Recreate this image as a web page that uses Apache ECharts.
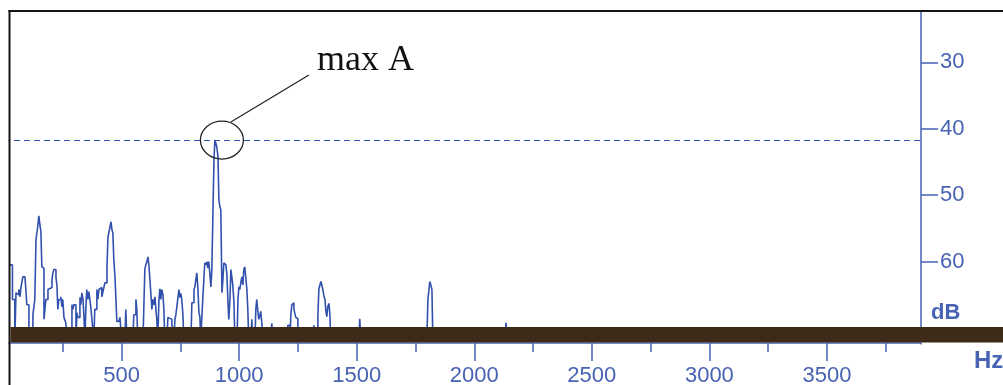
<!DOCTYPE html>
<html>
<head>
<meta charset="utf-8">
<script src="https://cdn.jsdelivr.net/npm/echarts@6/dist/echarts.min.js"></script>
<style>
	html, body {margin: 0; padding: 0; background: #fff;}
	#chart_spectrum {width: 1003px; height: 385px;}
</style>
</head>
<body>
<div id="chart_spectrum"></div>
<script>
// spectrum: frequency (Hz) and level (dB, shown downward)
var freqs = [25, 31, 36, 42, 46, 51, 59, 63, 68, 72, 80, 89, 93, 97, 106, 114, 123, 131, 136, 144,
	148, 153, 157, 161, 165, 170, 174, 178, 187, 195, 204, 208, 212, 221, 225, 229, 233, 242, 246, 250,
	255, 263, 267, 280, 289, 293, 297, 306, 310, 314, 323, 327, 331, 336, 340, 344, 348, 352, 357, 361,
	369, 374, 382, 386, 395, 399, 404, 408, 416, 421, 429, 438, 442, 450, 455, 459, 463, 467, 472, 476,
	480, 489, 493, 501, 514, 518, 523, 548, 552, 561, 565, 569, 591, 595, 599, 603, 608, 612, 616, 620,
	625, 629, 633, 637, 642, 646, 650, 654, 659, 663, 667, 671, 676, 680, 684, 693, 697, 705, 714, 722,
	727, 731, 739, 744, 748, 752, 756, 761, 765, 795, 799, 808, 812, 816, 820, 825, 829, 833, 837, 841,
	846, 850, 854, 859, 863, 867, 871, 876, 880, 884, 888, 893, 897, 901, 905, 910, 914, 918, 922, 927,
	931, 935, 939, 944, 948, 952, 956, 961, 965, 969, 973, 978, 982, 991, 995, 999, 1003, 1008, 1012, 1016,
	1020, 1024, 1029, 1033, 1037, 1041, 1050, 1054, 1058, 1067, 1071, 1075, 1080, 1084, 1088, 1092, 1097, 1101, 1135, 1139,
	1143, 1203, 1207, 1216, 1220, 1224, 1228, 1233, 1237, 1241, 1245, 1250, 1313, 1318, 1322, 1330, 1335, 1339, 1343, 1348,
	1352, 1356, 1360, 1365, 1369, 1373, 1377, 1382, 1386, 1390, 1509, 1513, 1518, 1798, 1803, 1807, 1811, 1815, 1820, 1824,
	2130, 2135, 2139, 3900];
var levels = [60.5, 60.5, 65.7, 65.7, 72, 64.7, 65.0, 64.2, 65.3, 63.9, 62.3, 62.6, 64.2, 66.5, 72, 72, 68.0, 65.7, 56.7, 54.6,
	53.1, 54.5, 55.5, 60.8, 61.0, 68.7, 68.4, 65.7, 64.2, 63.9, 62.7, 61.7, 61.2, 62.4, 63.5, 67.2, 65.7, 65.3, 66.8, 65.7,
	68.4, 69.2, 72, 72, 66.5, 67.2, 66.5, 72, 67.7, 68.4, 65.4, 66.5, 64.7, 65.7, 68.3, 72, 67.2, 64.2, 65.7, 64.5,
	66.8, 68.7, 72, 67.2, 64.2, 65.7, 64.2, 63.9, 65.3, 64.5, 63.2, 60.8, 56.4, 54.9, 54.0, 55.2, 55.7, 59.7, 62.3, 65.7,
	69.0, 69.2, 68.4, 72, 72, 67.2, 72, 72, 68.0, 65.7, 67.2, 72, 72, 66.5, 61.2, 60.5, 60.0, 59.3, 60.5, 62.4,
	65.0, 67.2, 65.7, 66.5, 65.3, 67.2, 68.7, 72, 65.7, 64.1, 65.7, 64.2, 65.0, 67.2, 72, 72, 68.4, 68.7, 69.5, 72,
	68.7, 68.0, 65.7, 64.2, 65.4, 64.8, 65.7, 68.0, 72, 72, 66.2, 64.2, 63.8, 62.7, 61.7, 64.2, 67.7, 68.3, 72, 68.7,
	65.3, 62.7, 60.2, 60.5, 60.0, 61.0, 60.0, 62.0, 63.8, 61.2, 53.7, 44.7, 41.7, 41.7, 42.7, 44.2, 50.7, 51.7, 52.2, 64.7,
	62.7, 60.2, 60.5, 60.2, 62.0, 65.7, 68.7, 65.7, 61.2, 61.5, 63.5, 66.2, 72, 72, 65.7, 63.8, 64.2, 63.0, 62.3, 63.5,
	61.2, 60.8, 62.7, 64.2, 67.2, 72, 72, 68.7, 72, 72, 67.2, 65.7, 67.7, 68.7, 68.4, 67.5, 69.5, 72, 72, 69.3,
	72, 72, 69.6, 72, 68.0, 66.5, 66.2, 67.2, 67.5, 68.4, 68.6, 72, 72, 69.6, 72, 72, 68.3, 64.2, 63.6, 63.0,
	63.0, 64.2, 65.1, 65.7, 67.5, 68.3, 66.8, 66.3, 68.0, 72, 72, 68.6, 72, 72, 65.7, 65.7, 63.0, 63.5, 64.2, 72,
	72, 69.2, 72, 72];
var x_ticks = [500, 1000, 1500, 2000, 2500, 3000, 3500];
var y_ticks = [30, 40, 50, 60];
var peak_label = "max A";

var blue = '#4862b4';
var line_blue = '#3151ad';

function init_spectrum_chart(){
	var data = [];
	for (var i = 0; i < freqs.length; i++) data.push([freqs[i], levels[i]]);

	var myChart = echarts.init(document.getElementById('chart_spectrum'));

	var options = {
		animation: false,
		backgroundColor: '#fff',
		grid: {left: 4, right: 82, top: -4, bottom: 57, containLabel: false, outerBoundsMode: 'none'},
		xAxis: {
			type: 'value', min: 0, max: 3900, interval: 500, offset: 15,
			axisLine: {show: true, onZero: false, lineStyle: {color: blue, width: 1.5}},
			axisTick: {show: true, length: 18, lineStyle: {color: blue, width: 1.5}},
			minorTick: {show: true, splitNumber: 2, length: 9, lineStyle: {color: blue, width: 1.5}},
			splitLine: {show: false},
			axisLabel: {
				color: blue, fontSize: 22, fontFamily: 'Liberation Sans', margin: 22,
				formatter: function (v){ return x_ticks.indexOf(v) >= 0 ? String(v) : ''; }
			}
		},
		yAxis: {
			type: 'value', position: 'right', inverse: true, min: 20, max: 70, interval: 10,
			axisLine: {show: true, onZero: false, lineStyle: {color: blue, width: 1.5}},
			axisTick: {show: true, length: 17, lineStyle: {color: blue, width: 1.5}},
			splitLine: {show: false},
			axisLabel: {
				color: blue, fontSize: 22, fontFamily: 'Liberation Sans', margin: 19,
				formatter: function (v){ return y_ticks.indexOf(v) >= 0 ? String(v) : ''; }
			}
		},
		series: [{
			type: 'line', data: data, showSymbol: false, clip: true, step: 'end',
			lineStyle: {color: line_blue, width: 1.6},
			markLine: {
				silent: true, symbol: 'none', label: {show: false},
				lineStyle: {color: line_blue, width: 1, type: [6, 4]},
				data: [{type: 'min', valueDim: 'y'}]
			}
		}]
	};
	myChart.setOption(options, true);

	// find the peak (smallest dB value) and mark it
	var peak = 0;
	for (var j = 1; j < levels.length; j++) if (levels[j] < levels[peak]) peak = j;
	var p = myChart.convertToPixel({seriesIndex: 0}, [freqs[peak], levels[peak]]);
	var cx = p[0] + 7, cy = p[1];

	myChart.setOption({
		graphic: [
			{type: 'rect', z: 50, shape: {x: 0, y: 0, width: 1003, height: 10}, style: {fill: '#fff'}},
			{type: 'rect', z: 50, shape: {x: 0, y: 0, width: 8.5, height: 385}, style: {fill: '#fff'}},
			{type: 'rect', z: 50, shape: {x: 919.5, y: 344.5, width: 4, height: 20}, style: {fill: '#fff'}},
			{type: 'line', z: 55, shape: {x1: 8.5, y1: 11, x2: 1003, y2: 11}, style: {stroke: '#151515', lineWidth: 2}},
			{type: 'line', z: 55, shape: {x1: 9.5, y1: 10, x2: 9.5, y2: 385}, style: {stroke: '#151515', lineWidth: 2}},
			{type: 'rect', z: 60, shape: {x: 10.5, y: 327, width: 993, height: 15.5}, style: {fill: '#3e2a18'}},
			{type: 'ellipse', z: 70, shape: {cx: cx, cy: cy, rx: 21.5, ry: 19}, style: {fill: 'none', stroke: '#222', lineWidth: 1.3}},
			{type: 'line', z: 70, shape: {x1: cx + 9, y1: cy - 18, x2: cx + 87, y2: cy - 65}, style: {stroke: '#222', lineWidth: 1.2}},
			{type: 'text', z: 70, x: cx + 95, y: cy - 80, style: {text: peak_label, fill: '#111', font: '36px "Liberation Serif"', textVerticalAlign: 'middle'}},
			{type: 'text', z: 70, x: 931, y: 313, style: {text: 'dB', fill: blue, font: 'bold 22px "Liberation Sans"', textVerticalAlign: 'middle'}},
			{type: 'text', z: 70, x: 974, y: 361, style: {text: 'Hz', fill: blue, font: 'bold 24px "Liberation Sans"', textVerticalAlign: 'middle'}}
		]
	});
}

init_spectrum_chart();
</script>
</body>
</html>
